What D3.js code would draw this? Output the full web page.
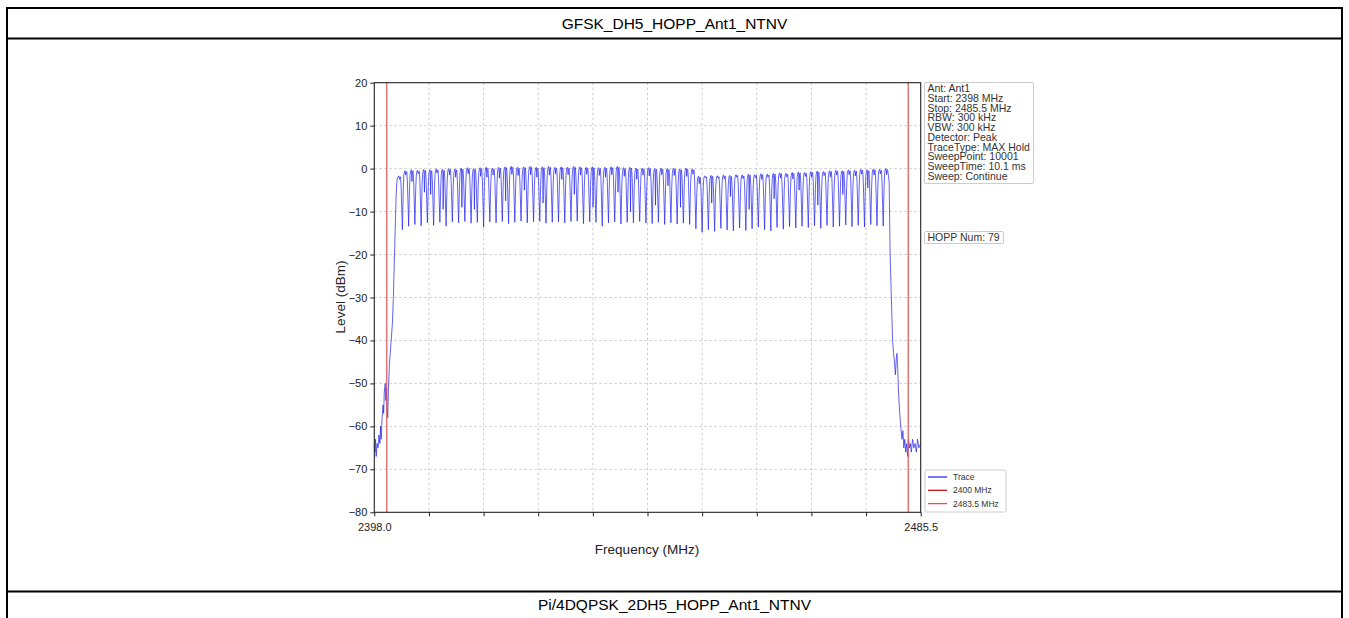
<!DOCTYPE html>
<html>
<head>
<meta charset="utf-8">
<script src="https://cdn.jsdelivr.net/npm/d3@7"></script>
<style>
  body { margin: 0; background: #fff; }
  svg { display: block; font-family: "Liberation Sans", Arial, sans-serif; }
</style>
</head>
<body>
<div id="here"></div>
<script>
var W = 1349, H = 618;

// channels 2402..2480 MHz, peak level of each hop (dBm)
var peaks = [-1.8, -0.6, -0.4, -0.5, -0.3, -0.4, -0.2, -0.3, -0.1, -0.2,
  0.0, 0.1, -0.1, 0.1, 0.2, 0.0, 0.2, 0.3, 0.4, 0.2,
  0.3, 0.4, 0.2, 0.3, 0.4, 0.2, 0.3, 0.2, 0.4, 0.3,
  0.2, 0.3, 0.1, 0.2, 0.3, 0.4, 0.1, 0.2, 0.0, 0.0,
  0.1, -0.1, 0.0, -0.1, 0.0, -0.2, 0.0, -0.2, -1.9, -1.8,
  -1.7, -1.8, -1.6, -1.7, -1.5, -1.6, -1.4, -1.5, -1.3, -1.4,
  -1.2, -1.1, -1.2, -1.0, -0.9, -1.0, -0.8, -0.7, -0.8, -0.6,
  -0.5, -0.6, -0.4, -0.5, -0.3, -0.4, -0.2, -0.3, -0.1];

// lowest level between neighbouring hops
var dips = [-14.2, -13.4, -13.0, -13.3, -12.6, -13.2, -12.5, -13.4, -12.4, -12.6,
  -12.3, -12.7, -12.5, -13.6, -12.4, -12.6, -12.3, -12.8, -12.5, -12.2,
  -12.6, -12.4, -12.3, -12.7, -12.5, -12.4, -12.6, -12.3, -12.2, -12.8,
  -12.4, -12.5, -13.4, -12.6, -12.4, -12.9, -12.5, -12.6, -12.3, -12.7,
  -12.8, -12.5, -13.0, -12.6, -12.9, -12.7, -13.0, -14.0, -14.8, -14.2,
  -14.6, -13.9, -14.3, -14.5, -13.8, -14.4, -14.0, -13.6, -14.2, -14.5,
  -13.7, -14.1, -13.5, -13.8, -13.4, -13.7, -13.3, -13.9, -13.2, -13.6,
  -13.4, -13.1, -13.5, -13.2, -13.6, -13.0, -13.3, -13.4];

// notch inside each hop
var notches = [-2.5, -1.5, -3.0, -1.2, -5.5, -6.0, -1.0, -9.5, -1.5, -2.0,
  -9.0, -1.2, -9.5, -1.8, -2.0, -1.5, -2.2, -7.5, -1.3, -1.6,
  -5.0, -1.4, -2.0, -8.0, -1.5, -1.2, -2.5, -1.4, -6.0, -1.5,
  -1.3, -9.0, -1.6, -2.0, -1.4, -5.5, -1.8, -10.0, -2.5, -1.5,
  -1.7, -8.5, -1.4, -4.0, -1.6, -9.0, -1.8, -1.3, -3.5, -2.0,
  -8.0, -2.2, -2.4, -6.5, -2.0, -2.3, -9.5, -2.1, -2.5, -2.0,
  -7.0, -2.2, -1.9, -2.4, -5.0, -1.8, -2.0, -8.5, -1.6, -1.9,
  -1.5, -6.0, -1.4, -1.7, -1.3, -4.5, -1.5, -1.2, -1.4];

// skirts below / above the band [MHz, dBm]
var leftSkirt = [[2398.0, -64], [2398.1, -66], [2398.2, -63], [2398.3, -67], [2398.45, -64],
  [2398.6, -65], [2398.75, -62], [2398.9, -64], [2399.0, -60], [2399.1, -63],
  [2399.25, -58], [2399.4, -55], [2399.5, -57], [2399.6, -52], [2399.75, -50],
  [2399.85, -54], [2399.95, -51], [2400.05, -56], [2400.15, -58], [2400.25, -52],
  [2400.4, -46], [2400.55, -43], [2400.7, -40], [2400.9, -36], [2401.05, -30],
  [2401.2, -22], [2401.35, -14], [2401.5, -6], [2401.65, -2.5]];
var rightSkirt = [[2480.45, -3], [2480.6, -20], [2480.8, -30], [2481.0, -40], [2481.15, -43],
  [2481.3, -45], [2481.45, -48], [2481.6, -44], [2481.7, -43], [2481.8, -46],
  [2481.95, -52], [2482.1, -56], [2482.3, -60], [2482.5, -63], [2482.65, -61],
  [2482.8, -65], [2482.95, -63], [2483.1, -66], [2483.25, -64], [2483.4, -67],
  [2483.55, -63], [2483.7, -65], [2483.85, -64], [2484.0, -66], [2484.2, -63],
  [2484.4, -65], [2484.6, -64], [2484.8, -66], [2485.0, -63], [2485.2, -65], [2485.5, -64]];

var firstChannel = 2402;
var limits = [2400, 2483.5];
var yTicks = [-80, -70, -60, -50, -40, -30, -20, -10, 0, 10, 20];
var xTicks = [2398, 2406.75, 2415.5, 2424.25, 2433, 2441.75, 2450.5, 2459.25, 2468, 2476.75, 2485.5];
var infoLines = ["Ant: Ant1", "Start: 2398 MHz", "Stop: 2485.5 MHz", "RBW: 300 kHz", "VBW: 300 kHz",
  "Detector: Peak", "TraceType: MAX Hold", "SweepPoint: 10001", "SweepTime: 10.1 ms", "Sweep: Continue"];
var legendItems = [{name: "Trace", color: "#2a2af0"}, {name: "2400 MHz", color: "#c4121a"}, {name: "2483.5 MHz", color: "#f04a4a"}];

// build trace from the read values
var trace = leftSkirt.slice();
peaks.forEach(function(p, i) {
  var f = firstChannel + i;
  if (i > 0) { trace.push([f - 0.36, p - 4]); trace.push([f - 0.27, p - 1]); }
  trace.push([f - 0.16, p]);
  trace.push([f - 0.04, p + 0.1]);
  trace.push([f + 0.03, notches[i]]);
  trace.push([f + 0.1, p - 0.4]);
  trace.push([f + 0.2, p - 0.1]);
  if (i < dips.length) { trace.push([f + 0.3, p - 2.5]); trace.push([f + 0.5, dips[i]]); }
});
trace = trace.concat(rightSkirt);

var svg = d3.select("#here").append("svg").attr("width", W).attr("height", H);

// table frame
var frame = svg.append("g").attr("stroke", "#000").attr("stroke-width", 2);
frame.append("line").attr("x1", 6).attr("x2", 1343).attr("y1", 8).attr("y2", 8);
frame.append("line").attr("x1", 6).attr("x2", 1343).attr("y1", 38.5).attr("y2", 38.5);
frame.append("line").attr("x1", 6).attr("x2", 1343).attr("y1", 591.5).attr("y2", 591.5);
frame.append("line").attr("x1", 7).attr("x2", 7).attr("y1", 7).attr("y2", H);
frame.append("line").attr("x1", 1342).attr("x2", 1342).attr("y1", 7).attr("y2", H);

svg.append("text").attr("x", W / 2).attr("y", 29).attr("text-anchor", "middle")
  .style("font-size", "15.5px").text("GFSK_DH5_HOPP_Ant1_NTNV");
svg.append("text").attr("x", W / 2).attr("y", 610).attr("text-anchor", "middle")
  .style("font-size", "15.5px").text("Pi/4DQPSK_2DH5_HOPP_Ant1_NTNV");

var x = d3.scaleLinear().domain([2398, 2485.5]).range([374.3, 920.7]);
var y = d3.scaleLinear().domain([-80, 20]).range([512.3, 82.7]);

// grid
var grid = svg.append("g").attr("stroke", "#b8b8b8").attr("stroke-width", 0.7).attr("stroke-dasharray", "2.5,2.5");
grid.selectAll(".gx").data(xTicks.slice(1, -1)).enter().append("line")
  .attr("x1", x).attr("x2", x).attr("y1", y(20)).attr("y2", y(-80));
grid.selectAll(".gy").data(yTicks.slice(1, -1)).enter().append("line")
  .attr("y1", y).attr("y2", y).attr("x1", x(2398)).attr("x2", x(2485.5));

// trace
var line = d3.line().x(function(d) { return x(d[0]); }).y(function(d) { return y(d[1]); });
svg.append("path").datum(trace).attr("d", line).attr("fill", "none")
  .attr("stroke", "#2020f0").attr("stroke-width", 0.7).attr("stroke-linejoin", "round");

// limit lines
svg.selectAll(".lim").data(limits).enter().append("line")
  .attr("x1", x).attr("x2", x).attr("y1", y(20)).attr("y2", y(-80))
  .attr("stroke", "#e05555").attr("stroke-width", 1.2);

// spines
svg.append("rect").attr("x", x(2398)).attr("y", y(20)).attr("width", x(2485.5) - x(2398))
  .attr("height", y(-80) - y(20)).attr("fill", "none").attr("stroke", "#222").attr("stroke-width", 1.1);

// axes
var yAxis = svg.append("g").attr("transform", "translate(" + x(2398) + ",0)")
  .call(d3.axisLeft(y).tickValues(yTicks).tickSize(4).tickPadding(3));
var xAxis = svg.append("g").attr("transform", "translate(0," + y(-80) + ")")
  .call(d3.axisBottom(x).tickValues(xTicks).tickSize(4).tickPadding(7)
    .tickFormat(function(d) { return (d === 2398 || d === 2485.5) ? d3.format(".1f")(d) : ""; }));
[yAxis, xAxis].forEach(function(a) {
  a.select(".domain").remove();
  a.selectAll("line").attr("stroke", "#222");
  a.selectAll("text").attr("fill", "#222").style("font-size", "11px")
    .style("font-family", "Liberation Sans, Arial, sans-serif");
});

svg.append("text").attr("transform", "translate(345,297) rotate(-90)").attr("text-anchor", "middle")
  .attr("fill", "#222").style("font-size", "13.5px").text("Level (dBm)");
svg.append("text").attr("x", 647).attr("y", 554).attr("text-anchor", "middle")
  .attr("fill", "#222").style("font-size", "13.5px").text("Frequency (MHz)");

// info box
svg.append("rect").attr("x", 924.5).attr("y", 82.5).attr("width", 109).attr("height", 101)
  .attr("rx", 1.5).attr("fill", "#fff").attr("stroke", "#ccc");
svg.append("g").selectAll("text").data(infoLines).enter().append("text")
  .attr("x", 927.5).attr("y", function(d, i) { return 92 + i * 9.75; })
  .attr("fill", "#333").style("font-size", "10.5px").text(function(d) { return d; });

svg.append("rect").attr("x", 924.5).attr("y", 231.5).attr("width", 79).attr("height", 12)
  .attr("rx", 1.5).attr("fill", "#fff").attr("stroke", "#ccc");
svg.append("text").attr("x", 927.5).attr("y", 241.3).attr("fill", "#333")
  .style("font-size", "10.5px").text("HOPP Num: 79");

// legend
svg.append("rect").attr("x", 925).attr("y", 470).attr("width", 81).attr("height", 42)
  .attr("rx", 1.5).attr("fill", "#fff").attr("stroke", "#ccc");
var lg = svg.append("g").selectAll("g").data(legendItems).enter().append("g")
  .attr("transform", function(d, i) { return "translate(0," + (477 + i * 13.3) + ")"; });
lg.append("line").attr("x1", 928).attr("x2", 947).attr("stroke", function(d) { return d.color; }).attr("stroke-width", 1.3);
lg.append("text").attr("x", 953).attr("y", 3).attr("fill", "#333").style("font-size", "8.5px")
  .text(function(d) { return d.name; });
</script>
</body>
</html>
